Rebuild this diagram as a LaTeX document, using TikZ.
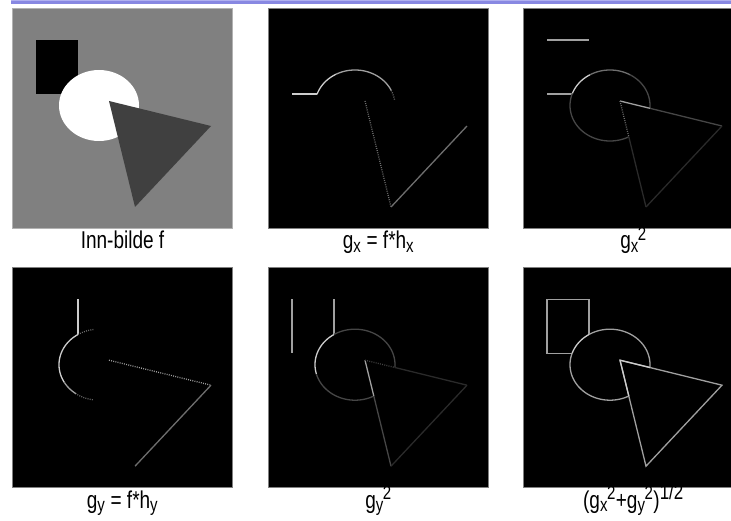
\documentclass[tikz,border=0pt]{standalone}
\usepackage{fontspec}
\setmainfont{Liberation Sans}
\definecolor{barc}{RGB}{136,136,226}
\definecolor{barl}{RGB}{176,176,240}
\definecolor{bgray}{RGB}{128,128,128}
\definecolor{tgray}{RGB}{64,64,64}
\definecolor{cbright}{RGB}{205,205,205}
\definecolor{cmid}{RGB}{160,160,160}
\definecolor{cmed}{RGB}{110,110,110}
\definecolor{cdim}{RGB}{70,70,70}
\definecolor{cfaint}{RGB}{42,42,42}
\newcommand{\earc}[3][]{\draw[#1] plot[domain=#2:#3,samples=60,smooth] ({86.5+40*cos(\x)},{97.2+35.5*sin(\x)});}
\newcommand{\lo}[1]{\textsubscript{\fontsize{15}{15}\selectfont #1}}
\newcommand{\hi}[1]{\textsuperscript{\fontsize{15}{15}\selectfont #1}}
\newcommand{\hib}[1]{\textsuperscript{\fontsize{17}{17}\selectfont #1}}
\newcommand{\stretchy}[1]{\scalebox{1}[1.28]{#1}}
\begin{document}
\begin{tikzpicture}[x=1pt,y=-1pt,
  lbl/.style={anchor=base, font=\fontsize{19}{22}\selectfont, inner sep=0pt},
  panel/.style={fill=black, draw=bgray, line width=0.6pt},
  edg/.style={line width=1.3pt},
  dots/.style={line width=1.3pt, dash pattern=on 0.9pt off 1.3pt},
]
\useasboundingbox (0,0) rectangle (731,521);
\fill[white] (0,0) rectangle (731,521);
\fill[barc] (11,0) rectangle (731,3.7);
\fill[barl] (11,0) rectangle (731,1.2);
% ---- panel A: input image
\begin{scope}[shift={(12.5,8.3)}]
  \fill[bgray] (0,0) rectangle (220,220);
  \draw[gray!60,line width=0.6pt] (0,0) rectangle (220,220);
  \fill[black] (23.5,31.7) rectangle (65.5,85.7);
  \fill[white] (86.5,97.2) ellipse [x radius=40, y radius=35.5];
  \fill[tgray] (96.5,92.7) -- (198.5,117.7) -- (122.5,198.7) -- cycle;
\end{scope}
\node[lbl] (la) at (122.5,249) {\stretchy{Inn-bilde f}};
% ---- panel B: gx
\begin{scope}[shift={(268.5,8.3)}]
  \draw[panel] (0,0) rectangle (220,220);
  \draw[edg,cbright] (23.5,85.7) -- (48.5,85.7);
  \earc[edg,cbright]{198.4}{242}
  \earc[edg,cmid]{242}{335}
  \earc[dots,cmed]{335}{352}
  \draw[dots,cmed] (96.5,92.7) -- (122.5,198.7);
  \draw[edg,cmed] (122.5,198.7) -- (198.5,117.7);
\end{scope}
\node[lbl] (lb) at (378.5,249) {\stretchy{g\lo{x} = f*h\lo{x}}};
% ---- panel C: gx^2
\begin{scope}[shift={(523.5,8.3)}]
  \draw[panel] (0,0) rectangle (220,220);
  \draw[edg,cmid] (23.5,31.7) -- (65.5,31.7);
  \draw[edg,cmid] (23.5,85.7) -- (48.5,85.7);
  \earc[edg,cdim]{62}{200}
  \earc[edg,cbright]{200}{240}
  \earc[edg,cmed]{240}{300}
  \earc[edg,cdim]{300}{364.5}
  \draw[edg,cmid] (96.5,92.7) -- (126.4,100);
  \draw[edg,cdim] (126.4,100) -- (198.5,117.7);
  \draw[edg,cfaint] (198.5,117.7) -- (122.5,198.7);
  \draw[dots,cmed] (96.5,92.7) -- (105.3,128.5);
  \draw[edg,cfaint] (105.3,128.5) -- (122.5,198.7);
\end{scope}
\node[lbl] (lc) at (633.5,249) {\stretchy{g\lo{x}\hspace{-0.05em}\hi{2}}};
% ---- panel D: gy
\begin{scope}[shift={(12.5,267.5)}]
  \draw[panel] (0,0) rectangle (220,220);
  \draw[edg,cbright] (65.5,31.7) -- (65.5,67);
  \earc[dots,cmed]{238.3}{262}
  \earc[edg,cbright]{150}{238.3}
  \earc[edg,cmid]{125}{150}
  \earc[dots,cmed]{99}{125}
  \draw[dots,cmid] (96.5,92.7) -- (198.5,117.7);
  \draw[edg,cmed] (198.5,117.7) -- (122.5,198.7);
\end{scope}
\node[lbl] (ld) at (122.5,508) {\stretchy{g\lo{y} = f*h\lo{y}}};
% ---- panel E: gy^2
\begin{scope}[shift={(268.5,267.5)}]
  \draw[panel] (0,0) rectangle (220,220);
  \draw[edg,cmid] (23.5,31.7) -- (23.5,85.7);
  \draw[edg,cmid] (65.5,31.7) -- (65.5,67);
  \earc[edg,cdim]{62}{165}
  \earc[edg,cbright]{165}{238.3}
  \earc[edg,cdim]{238.3}{364.5}
  \draw[edg,cmid] (96.5,92.7) -- (105.3,128.5);
  \draw[edg,cdim] (105.3,128.5) -- (122.5,198.7);
  \draw[dots,cdim] (96.5,92.7) -- (126.4,100);
  \draw[edg,cfaint] (126.4,100) -- (198.5,117.7);
  \draw[edg,cfaint] (198.5,117.7) -- (122.5,198.7);
\end{scope}
\node[lbl] (le) at (378.5,508) {\stretchy{g\lo{y}\hspace{-0.05em}\hi{2}}};
% ---- panel F: magnitude
\begin{scope}[shift={(523.5,267.5)}]
  \draw[panel] (0,0) rectangle (220,220);
  \draw[edg,cmid] (48.5,85.7) -- (23.5,85.7) -- (23.5,31.7) -- (65.5,31.7) -- (65.5,67);
  \earc[edg,cmid]{62}{198.4}
  \earc[edg,cbright]{198.4}{238.3}
  \earc[edg,cmid]{238.3}{364.5}
  \draw[edg,cmid] (96.5,92.7) -- (198.5,117.7) -- (122.5,198.7) -- cycle;
  \draw[edg,cbright] (96.5,92.7) -- (126.4,100);
  \draw[edg,cbright] (96.5,92.7) -- (105.3,128.5);
\end{scope}
\node[lbl] (lf) at (633.5,508) {\stretchy{(g\lo{x}\hspace{-0.05em}\hi{2}+g\lo{y}\hspace{-0.05em}\hi{2})\hib{1/2}}};
\end{tikzpicture}
\end{document}
